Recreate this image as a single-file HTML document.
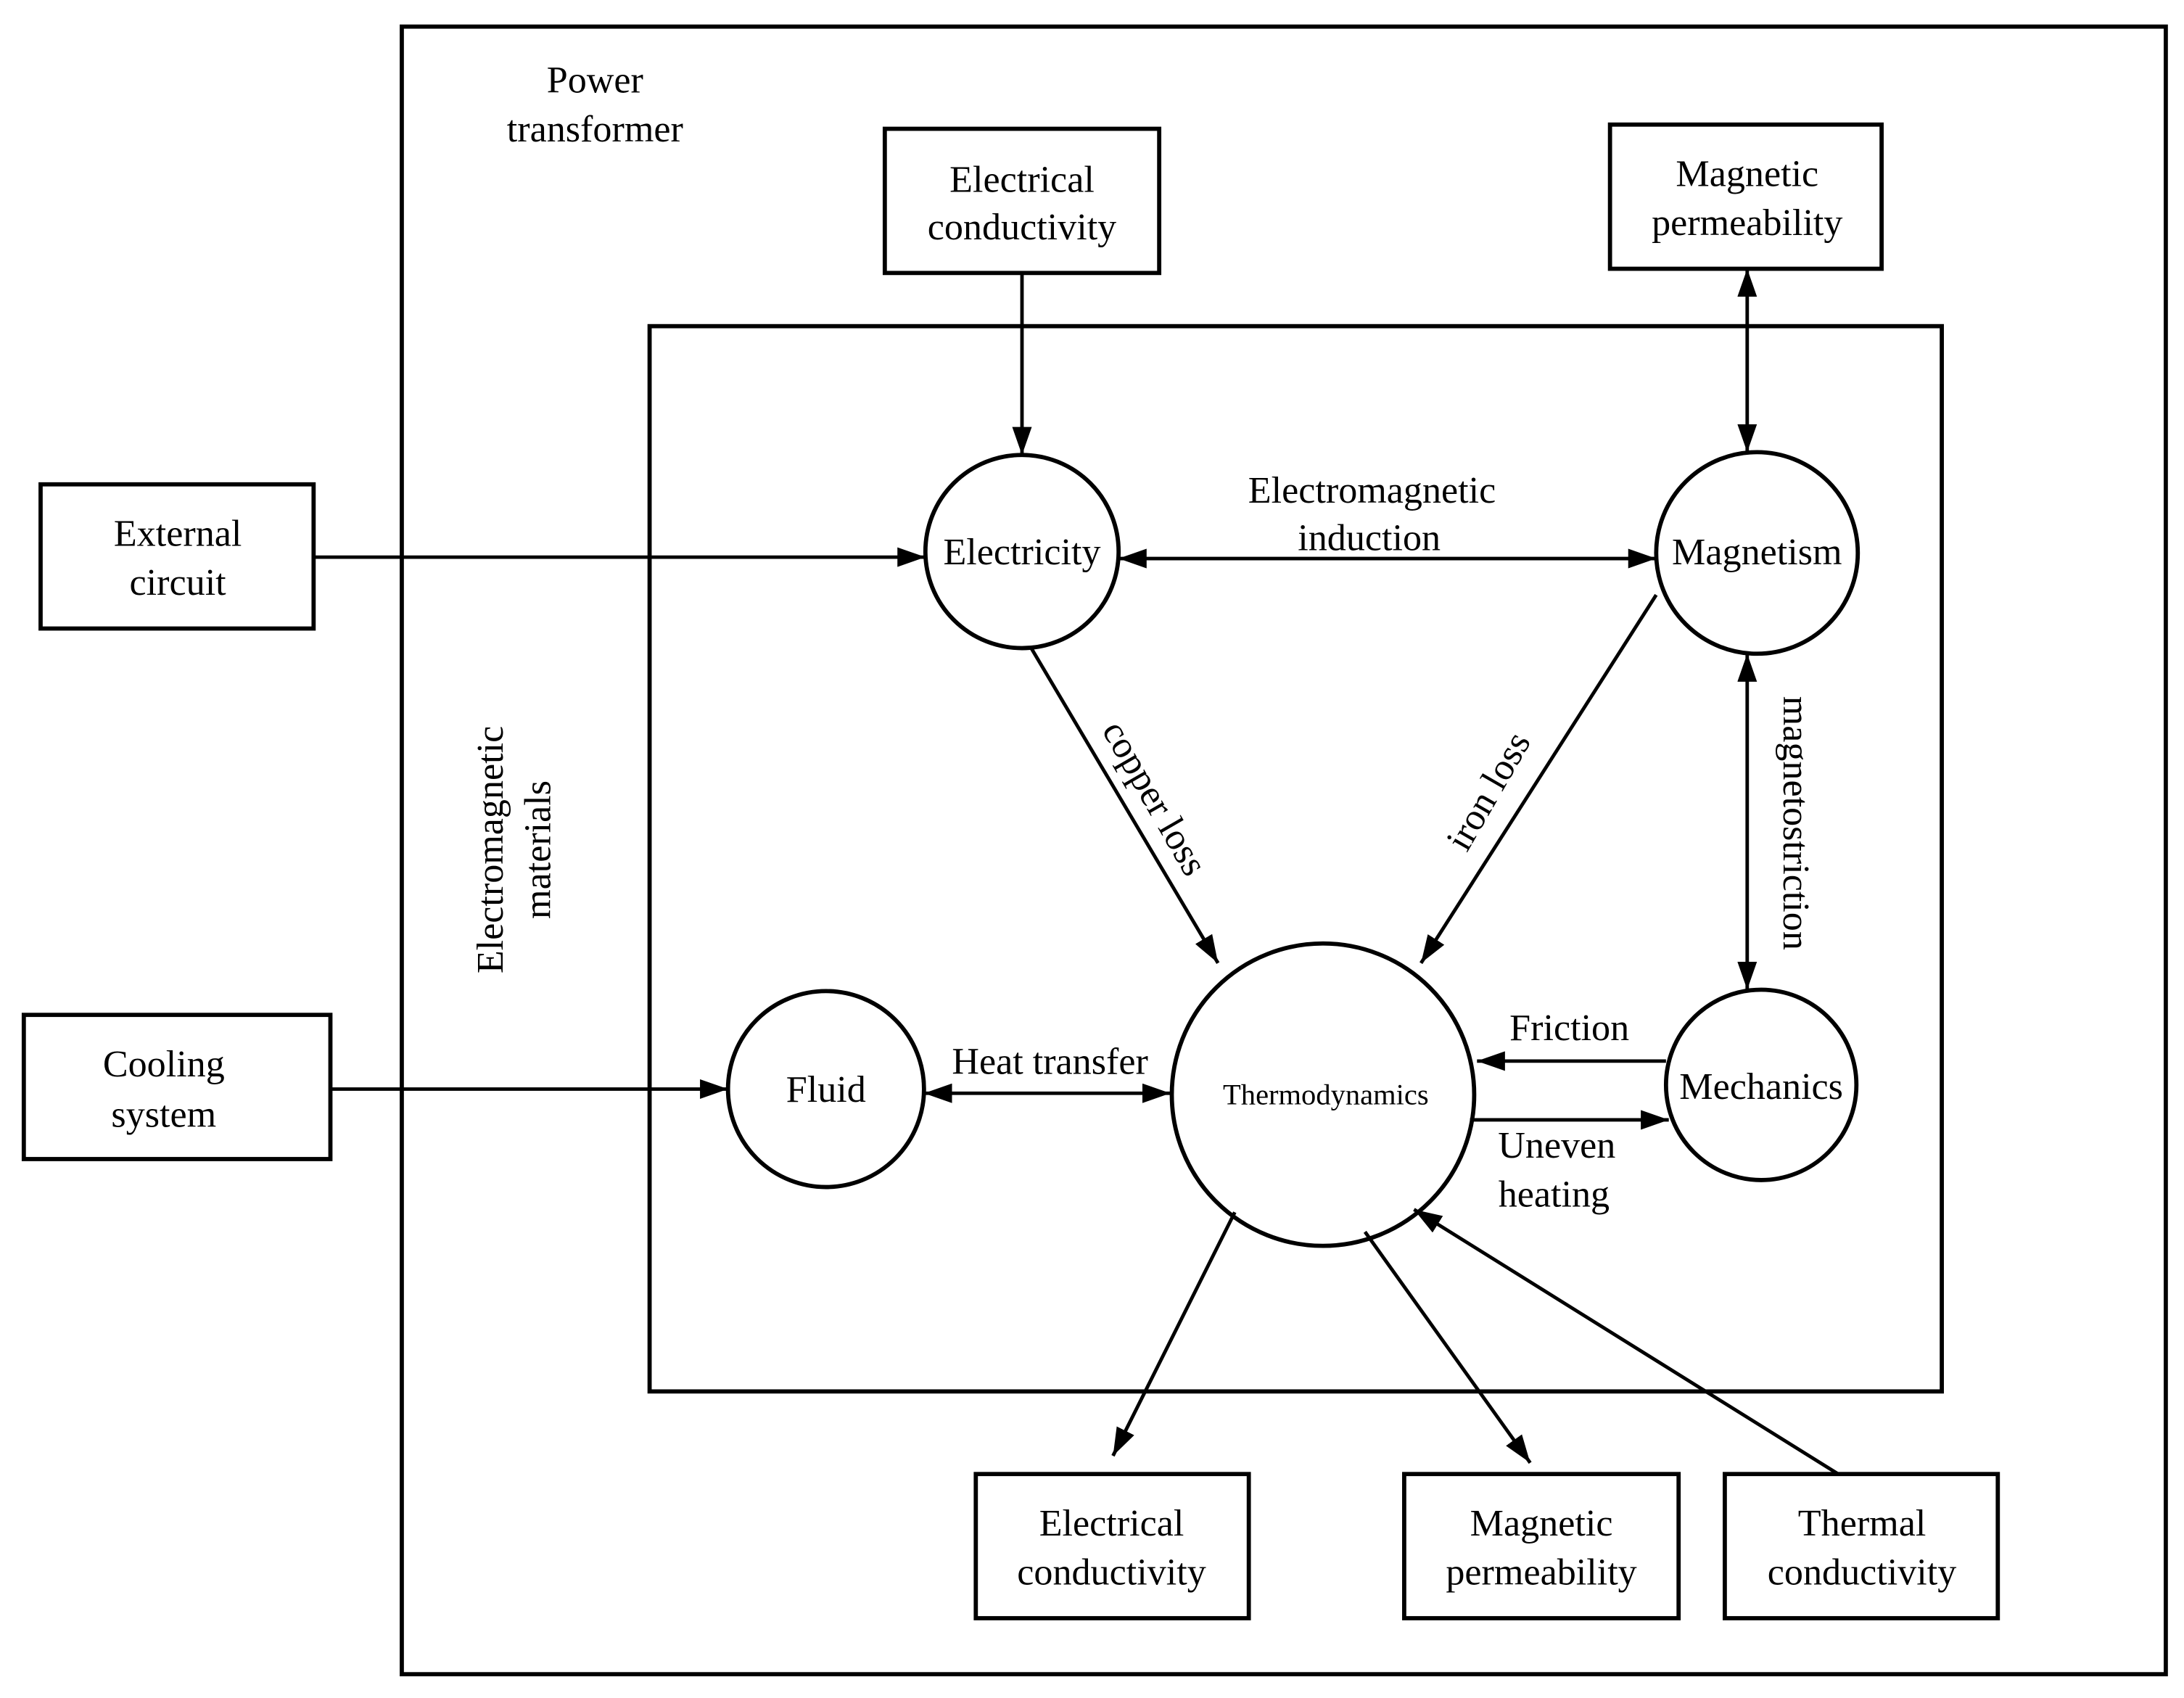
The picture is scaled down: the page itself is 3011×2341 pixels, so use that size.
<!DOCTYPE html>
<html><head><meta charset="utf-8">
<style>
html,body{margin:0;padding:0;background:#fff;}
svg{display:block;}
text{font-family:"Liberation Serif",serif;fill:#000;}
</style></head>
<body>
<svg width="3011" height="2341" viewBox="0 0 1560 1213" preserveAspectRatio="none" xmlns="http://www.w3.org/2000/svg">
<defs>
<marker id="a" viewBox="0 0 20 14" refX="20" refY="7" markerWidth="20" markerHeight="14" markerUnits="userSpaceOnUse" orient="auto-start-reverse">
<path d="M0,0 L20,7 L0,14 z" fill="#000"/>
</marker>
</defs>
<g fill="none" stroke="#000" stroke-width="3">
<rect x="287" y="19" width="1260" height="1177"/>
<rect x="464" y="233" width="923" height="761"/>
<rect x="632" y="92" width="196" height="103"/>
<rect x="1150" y="89" width="194" height="103"/>
<rect x="29" y="346" width="195" height="103"/>
<rect x="17" y="725" width="219" height="103"/>
<rect x="697" y="1053" width="195" height="103"/>
<rect x="1003" y="1053" width="196" height="103"/>
<rect x="1232" y="1053" width="195" height="103"/>
<circle cx="730" cy="394" r="69"/>
<circle cx="1255" cy="395" r="72"/>
<circle cx="945" cy="782" r="108"/>
<circle cx="590" cy="778" r="70"/>
<circle cx="1258" cy="775" r="68"/>
</g>
<g stroke="#000" stroke-width="2.5" fill="none">
<line x1="730" y1="195" x2="730" y2="325" marker-end="url(#a)"/>
<line x1="1248" y1="192" x2="1248" y2="323" marker-start="url(#a)" marker-end="url(#a)"/>
<line x1="224" y1="398" x2="661" y2="398" marker-end="url(#a)"/>
<line x1="799" y1="399" x2="1183" y2="399" marker-start="url(#a)" marker-end="url(#a)"/>
<line x1="736" y1="462" x2="870" y2="688" marker-end="url(#a)"/>
<line x1="1183" y1="425" x2="1015" y2="688" marker-end="url(#a)"/>
<line x1="1248" y1="467" x2="1248" y2="707" marker-start="url(#a)" marker-end="url(#a)"/>
<line x1="1190" y1="758" x2="1055" y2="758" marker-end="url(#a)"/>
<line x1="1050" y1="800" x2="1192" y2="800" marker-end="url(#a)"/>
<line x1="236" y1="778" x2="520" y2="778" marker-end="url(#a)"/>
<line x1="660" y1="781" x2="836" y2="781" marker-start="url(#a)" marker-end="url(#a)"/>
<line x1="882" y1="866" x2="795" y2="1040" marker-end="url(#a)"/>
<line x1="975" y1="880" x2="1093" y2="1045" marker-end="url(#a)"/>
<line x1="1313" y1="1053" x2="1010" y2="864" marker-end="url(#a)"/>
</g>
<g font-size="27" text-anchor="middle">
<text x="425" y="66">Power</text>
<text x="425" y="101">transformer</text>
<text x="730" y="137">Electrical</text>
<text x="730" y="171">conductivity</text>
<text x="1248" y="133">Magnetic</text>
<text x="1248" y="168">permeability</text>
<text x="127" y="390">External</text>
<text x="127" y="425">circuit</text>
<text x="117" y="769">Cooling</text>
<text x="117" y="805">system</text>
<text x="794" y="1097">Electrical</text>
<text x="794" y="1132">conductivity</text>
<text x="1101" y="1097">Magnetic</text>
<text x="1101" y="1132">permeability</text>
<text x="1330" y="1097">Thermal</text>
<text x="1330" y="1132">conductivity</text>
<text x="730" y="403">Electricity</text>
<text x="1255" y="403">Magnetism</text>
<text x="590" y="787">Fluid</text>
<text x="1258" y="785">Mechanics</text>
<text x="980" y="359">Electromagnetic</text>
<text x="978" y="393">induction</text>
<text x="1121" y="743">Friction</text>
<text x="1112" y="827">Uneven</text>
<text x="1110" y="862">heating</text>
<text x="750" y="767">Heat transfer</text>
<text transform="translate(825,570) rotate(60)" y="9">copper loss</text>
<text transform="translate(1063,565) rotate(-60)" y="9">iron loss</text>
<text transform="translate(1283,588) rotate(90)" y="9">magnetostriction</text>
<text transform="translate(350,607) rotate(-90)" y="9">Electromagnetic</text>
<text transform="translate(384,607) rotate(-90)" y="9">materials</text>
<text x="947" y="789" font-size="21">Thermodynamics</text>
</g>
</svg>
</body></html>
